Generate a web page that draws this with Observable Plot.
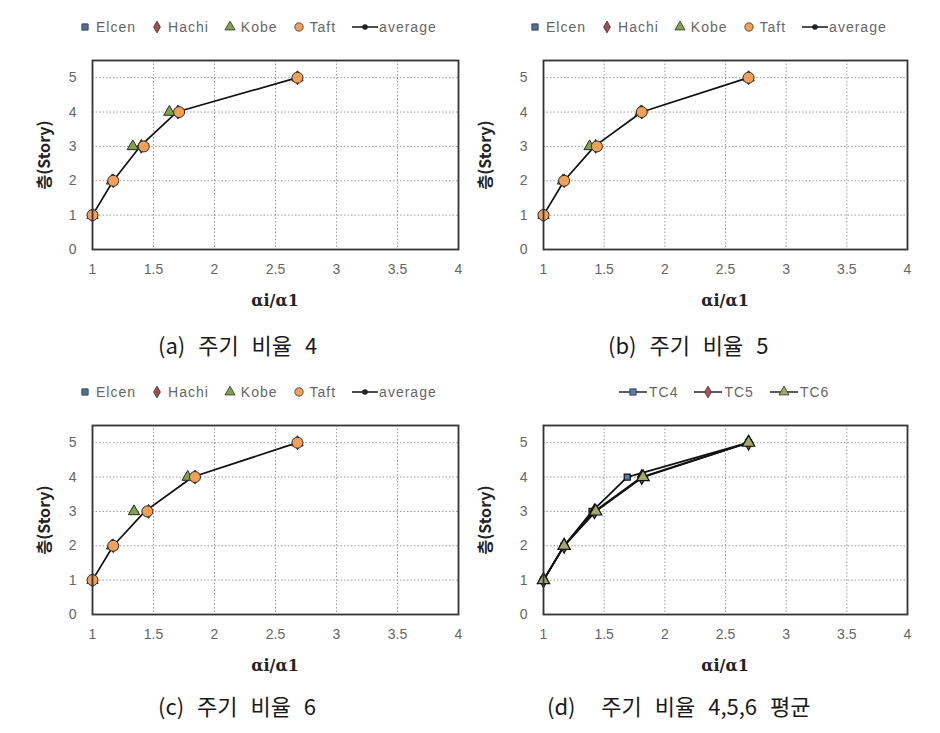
<!DOCTYPE html>
<html>
<head>
<meta charset="utf-8">
<script src="https://cdn.jsdelivr.net/npm/d3@7"></script>
<script src="https://cdn.jsdelivr.net/npm/@observablehq/plot@0.6"></script>
<style>
  body { margin:0; background:#fff; }
  #root { position:relative; width:940px; height:733px; overflow:hidden; background:#fff; }
  .panel { position:absolute; width:470px; height:365px; }
  .panel svg.plot { position:absolute; top:45px; left:0; }
  .legend { position:absolute; top:19px; display:flex; align-items:center; gap:15px;
            font-family:"Liberation Sans", Arial, sans-serif; font-size:14px; letter-spacing:1px; color:#666; white-space:nowrap; }
  .legend .item { display:flex; align-items:center; gap:5px; }
  .ylab { position:absolute; transform:translate(-50%,-50%) rotate(-90deg); font-family:"Noto Sans CJK KR", sans-serif;
          font-weight:700; font-size:16px; color:#222; white-space:nowrap; }
  .xlab { position:absolute; transform:translate(-50%,-50%); font-family:"DejaVu Serif", serif; font-weight:700;
          font-size:16px; color:#222; white-space:nowrap; }
  .caption { position:absolute; transform:translateY(-50%); font-family:"Noto Sans CJK KR", sans-serif; font-size:22px;
             color:#1a1a1a; white-space:pre; word-spacing:8px; }
</style>
</head>
<body>
<div id="root"></div>
<script>
// ---- data ----
const stories = [1, 2, 3, 4, 5];
const xTicks = [1, 1.5, 2, 2.5, 3, 3.5, 4];
const yTicks = [0, 1, 2, 3, 4, 5];
const quakeNames = ["Elcen", "Hachi", "Kobe", "Taft", "average"];
const tcNames = ["TC4", "TC5", "TC6"];
const captions = ["(a) 주기 비율 4", "(b) 주기 비율 5", "(c) 주기 비율 6", "(d)  주기 비율 4,5,6 평균"];

// (a) period ratio 4
const aElcen   = [1, 1.17, 1.41, 1.70, 2.68];
const aHachi   = [1, 1.17, 1.40, 1.70, 2.68];
const aKobe    = [1, 1.16, 1.33, 1.63, 2.68];
const aTaft    = [1, 1.17, 1.42, 1.71, 2.68];
const aAverage = [1, 1.17, 1.39, 1.69, 2.68];
// (b) period ratio 5
const bElcen   = [1, 1.17, 1.43, 1.81, 2.69];
const bHachi   = [1, 1.17, 1.43, 1.81, 2.69];
const bKobe    = [1, 1.16, 1.38, 1.80, 2.69];
const bTaft    = [1, 1.17, 1.44, 1.81, 2.69];
const bAverage = [1, 1.17, 1.42, 1.81, 2.69];
// (c) period ratio 6
const cElcen   = [1, 1.17, 1.45, 1.84, 2.68];
const cHachi   = [1, 1.17, 1.46, 1.84, 2.68];
const cKobe    = [1, 1.16, 1.34, 1.78, 2.68];
const cTaft    = [1, 1.17, 1.45, 1.84, 2.68];
const cAverage = [1, 1.17, 1.43, 1.82, 2.68];
// (d) averages
const dTC4 = [1, 1.17, 1.40, 1.69, 2.69];
const dTC5 = [1, 1.17, 1.42, 1.81, 2.69];
const dTC6 = [1, 1.17, 1.43, 1.82, 2.69];

// ---- styles ----
const quakeStyle = {
  Elcen: {symbol: "square",   fill: "#4F6FA0", r: 3.6},
  Hachi: {symbol: "diamond",  fill: "#A0504D", r: 4.2},
  Kobe:  {symbol: "triangle", fill: "#7FA34A", r: 4.2},
  Taft:  {symbol: "circle",   fill: "#F4A05A", r: 5.5}
};
const tcStyle = {
  TC4: {symbol: "square",   fill: "#5B7CB0", r: 3.4},
  TC5: {symbol: "diamond",  fill: "#B0525A", r: 4.4},
  TC6: {symbol: "triangle", fill: "#A3A868", r: 4.6}
};

function rows(name, vals) { return vals.map((v, i) => ({series: name, x: v, y: stories[i]})); }

const panels = [
  {left: 0,   top: 0,   ml: 92, mr: 12, kind: "q", data: {Elcen: aElcen, Hachi: aHachi, Kobe: aKobe, Taft: aTaft, average: aAverage}, ylabX: 43},
  {left: 470, top: 0,   ml: 73, mr: 33, kind: "q", data: {Elcen: bElcen, Hachi: bHachi, Kobe: bKobe, Taft: bTaft, average: bAverage}, ylabX: 14},
  {left: 0,   top: 365, ml: 92, mr: 12, kind: "q", data: {Elcen: cElcen, Hachi: cHachi, Kobe: cKobe, Taft: cTaft, average: cAverage}, ylabX: 43},
  {left: 470, top: 365, ml: 73, mr: 33, kind: "d", data: {TC4: dTC4, TC5: dTC5, TC6: dTC6}, ylabX: 14}
];
const captionLeft = [158, 138, 158, 77];
const legendLeft = [79, 59, 79, 148];

const root = document.getElementById("root");
const W = 470, H = 265, MT = 15, MB = 61;

function swatchSvg(sym, fill, withLine, lineColor) {
  const w = withLine ? 30 : 12;
  const s = d3.create("svg").attr("width", w).attr("height", 14);
  const cx = w / 2, cy = 7;
  if (withLine) s.append("line").attr("x1", 1).attr("x2", w - 1).attr("y1", cy).attr("y2", cy)
    .attr("stroke", lineColor).attr("stroke-width", 1.6);
  const path = d3.symbol().type({
    square: d3.symbolSquare, diamond: d3.symbolDiamond, triangle: d3.symbolTriangle, circle: d3.symbolCircle
  }[sym]).size(sym === "circle" ? 55 : sym === "triangle" ? 45 : 40)();
  s.append("path").attr("d", path).attr("transform", `translate(${cx},${cy})`)
    .attr("fill", fill).attr("stroke", "#333").attr("stroke-width", 0.8);
  return s.node();
}

panels.forEach((p, idx) => {
  const div = document.createElement("div");
  div.className = "panel";
  div.style.left = p.left + "px";
  div.style.top = p.top + "px";
  root.appendChild(div);

  // legend
  const leg = document.createElement("div");
  leg.className = "legend";
  leg.style.left = legendLeft[idx] + "px";
  if (p.kind === "q") {
    for (const n of quakeNames) {
      const it = document.createElement("div"); it.className = "item";
      if (n === "average") {
        const s = d3.create("svg").attr("width", 28).attr("height", 14);
        s.append("line").attr("x1", 1).attr("x2", 27).attr("y1", 7).attr("y2", 7).attr("stroke", "#222").attr("stroke-width", 1.6);
        s.append("circle").attr("cx", 14).attr("cy", 7).attr("r", 2.8).attr("fill", "#222");
        it.appendChild(s.node());
        it.style.gap = "0px";
      } else {
        const st = quakeStyle[n];
        it.appendChild(swatchSvg(st.symbol, st.fill, false));
      }
      const t = document.createElement("span"); t.textContent = n; it.appendChild(t);
      leg.appendChild(it);
    }
  } else {
    for (const n of tcNames) {
      const it = document.createElement("div"); it.className = "item"; it.style.gap = "1px";
      const st = tcStyle[n];
      it.appendChild(swatchSvg(st.symbol, st.fill, true, "#333"));
      const t = document.createElement("span"); t.textContent = n; it.appendChild(t);
      leg.appendChild(it);
    }
  }
  div.appendChild(leg);

  let marks = [];
  if (p.kind === "q") {
    const avg = rows("average", p.data.average);
    const pts = ["Elcen", "Hachi", "Kobe", "Taft"].map(n => rows(n, p.data[n]));
    marks.push(Plot.line(avg, {x: "x", y: "y", stroke: "#111", strokeWidth: 1.7}));
    marks.push(Plot.dot(avg, {x: "x", y: "y", r: 2.6, fill: "#111"}));
    ["Elcen", "Hachi", "Kobe", "Taft"].forEach((n, i) => {
      const st = quakeStyle[n];
      marks.push(Plot.dot(pts[i], {x: "x", y: "y", symbol: () => st.symbol, r: st.r, fill: st.fill, stroke: "#2a2a2a", strokeWidth: 1}));
    });
  } else {
    tcNames.forEach(n => {
      const st = tcStyle[n];
      const r = rows(n, p.data[n]);
      marks.push(Plot.line(r, {x: "x", y: "y", stroke: "#111", strokeWidth: 1.8}));
      marks.push(Plot.dot(r, {x: "x", y: "y", symbol: () => st.symbol, r: st.r, fill: st.fill, stroke: "#111", strokeWidth: 1.2}));
    });
  }

  const chart = Plot.plot({
    width: W, height: H,
    marginLeft: p.ml, marginRight: p.mr, marginTop: MT, marginBottom: MB,
    x: {domain: [1, 4]},
    y: {domain: [0, 5.5]},
    symbol: {type: "identity"},
    style: {fontFamily: "'Liberation Sans', Arial, sans-serif", fontSize: "14px", color: "#666", background: "transparent"},
    marks: [
      Plot.gridX(xTicks, {stroke: "#9a9a9a", strokeOpacity: 1, strokeDasharray: "1.5,2", strokeWidth: 1}),
      Plot.gridY(yTicks, {stroke: "#9a9a9a", strokeOpacity: 1, strokeDasharray: "1.5,2", strokeWidth: 1}),
      Plot.axisX({ticks: xTicks, tickSize: 0, tickPadding: 15, label: null, fill: "#666", tickFormat: d => String(d)}),
      Plot.axisY({ticks: yTicks, tickSize: 0, tickPadding: 16, label: null, fill: "#666", tickFormat: d => String(d)}),
      ...marks,
      Plot.frame({stroke: "#333", strokeWidth: 1.8})
    ]
  });
  chart.classList.add("plot");
  div.appendChild(chart);

  const frameTop = 45 + MT, frameBottom = 45 + H - MB;
  const yl = document.createElement("div"); yl.className = "ylab"; yl.textContent = "층(Story)";
  yl.style.left = p.ylabX + "px"; yl.style.top = ((frameTop + frameBottom) / 2) + "px";
  div.appendChild(yl);
  const xl = document.createElement("div"); xl.className = "xlab"; xl.textContent = "αi/α1";
  xl.style.left = (p.ml + (W - p.ml - p.mr) / 2) + "px"; xl.style.top = "300px";
  div.appendChild(xl);

  const cap = document.createElement("div"); cap.className = "caption"; cap.textContent = captions[idx];
  cap.style.left = captionLeft[idx] + "px"; cap.style.top = (idx < 2 ? 344 : 340) + "px";
  div.appendChild(cap);
});
</script>
</body>
</html>
